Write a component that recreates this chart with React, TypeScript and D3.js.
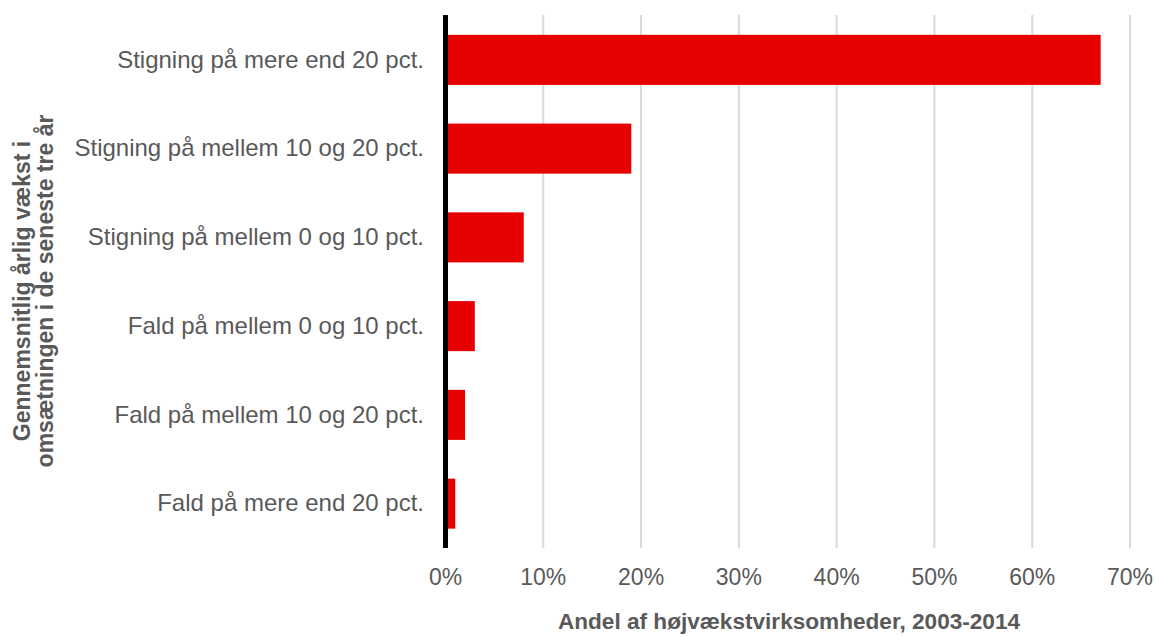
import React from "react";
import * as d3 from "d3";

const categories = [
  "Stigning på mere end 20 pct.",
  "Stigning på mellem 10 og 20 pct.",
  "Stigning på mellem 0 og 10 pct.",
  "Fald på mellem 0 og 10 pct.",
  "Fald på mellem 10 og 20 pct.",
  "Fald på mere end 20 pct.",
];
const values = [67, 19, 8, 3, 2, 1];
const xTicks = [0, 10, 20, 30, 40, 50, 60, 70];
const yTitleLines = ["Gennemsnitlig årlig vækst i", "omsætningen i de seneste tre år"];
const xTitle = "Andel af højvækstvirksomheder, 2003-2014";

export default function App() {
  const W = 1156, H = 637;
  const x = d3.scaleLinear().domain([0, 70]).range([445.5, 1130]);
  const y = d3.scaleBand<string>().domain(categories).range([15.5, 548]).paddingInner(0.436).paddingOuter(0.218);
  const font = "Liberation Sans, Arial, sans-serif";
  const grey = "#595959";
  return (
    <svg width={W} height={H} style={{ position: "absolute", left: 0, top: 0 }} fontFamily={font}>
      {xTicks.slice(1).map((t) => (
        <line key={t} x1={x(t)} x2={x(t)} y1={15} y2={548} stroke="#d9d9d9" strokeWidth={2} />
      ))}
      {categories.map((c, i) => (
        <rect key={c} x={x(0)} y={y(c)!} width={x(values[i]) - x(0)} height={y.bandwidth()} fill="#e60000" />
      ))}
      <line x1={x(0)} x2={x(0)} y1={15} y2={548} stroke="#000" strokeWidth={5} />
      {categories.map((c) => (
        <text key={c} x={424} y={y(c)! + y.bandwidth() / 2} dy="0.32em" textAnchor="end" fontSize={24} fill={grey}>
          {c}
        </text>
      ))}
      {xTicks.map((t) => (
        <text key={t} x={x(t)} y={585} textAnchor="middle" fontSize={23} fill={grey}>
          {t}%
        </text>
      ))}
      <text x={789} y={629} textAnchor="middle" fontSize={22.6} fontWeight="bold" fill={grey}>
        {xTitle}
      </text>
      <g transform="translate(0,291) rotate(-90)">
        {yTitleLines.map((l, i) => (
          <text key={i} x={0} y={30 + i * 23} textAnchor="middle" fontSize={23} fontWeight="bold" fill={grey}>
            {l}
          </text>
        ))}
      </g>
    </svg>
  );
}
